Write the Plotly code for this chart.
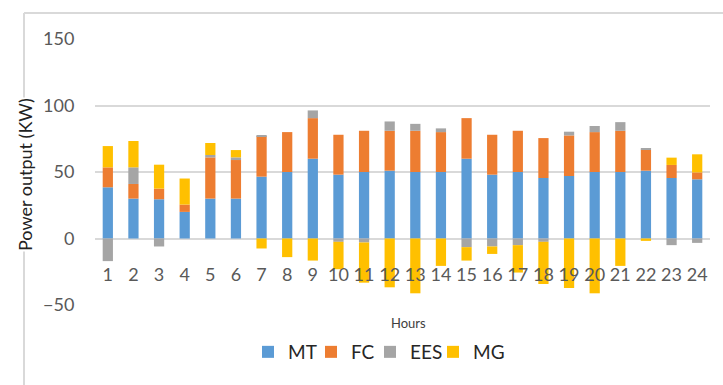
import plotly.graph_objects as go

HOURS = [str(i) for i in range(1, 25)]
MT = [38.5, 30, 29.5, 20, 30, 30, 46.5, 50, 60, 48, 50, 51, 50, 50, 60, 48, 50, 45.5, 47, 50, 50, 51, 45.5, 44.5]
FC = [15, 11, 8, 5.5, 31, 29, 30.5, 30, 30.5, 30, 31, 30, 31, 30, 30.5, 30, 31, 30, 30.5, 30, 31, 15.8, 9.8, 5.2]
EES = [-17, 12.5, -6, 0, 1.8, 2, 0.8, 0, 5.8, -2.5, -3, 7, 5.2, 2.8, -6.5, -6, -5, -2.5, 2.8, 4.6, 6.5, 0.7, -5, -3.3]
MG = [16, 19.8, 18, 19.6, 9, 5.5, -7.5, -14, -16.6, -20.6, -30.2, -36.7, -41.2, -20.6, -10.1, -5.6, -20.6, -31.7, -37.2, -41.2, -20.6, -1.8, 5.5, 13.6]
SERIES = [("MT", MT, "#5B9BD5"), ("FC", FC, "#ED7D31"), ("EES", EES, "#A5A5A5"), ("MG", MG, "#FFC000")]
Y_TICKS = [-50, 0, 50, 100, 150]

W, H = 723, 385
ML, MR, MT_, MB = 95, 13, 39, 80
PW, PH = W - ML - MR, H - MT_ - MB

def px_x(p):
    return (p - ML) / PW

def px_y(p):
    return (H - MB - p) / PH

FONT = "Lato, 'Open Sans', sans-serif"
LEGEND_X = [248, 311, 370, 433]  # pixel left edge of each legend entry

fig = go.Figure()
legend_layouts = {}
for i, (name, vals, col) in enumerate(SERIES):
    lname = "legend" if i == 0 else f"legend{i + 1}"
    fig.add_trace(go.Bar(x=HOURS, y=vals, name=name, legend=lname, showlegend=True,
                         marker=dict(color=col, line=dict(width=0))))
    legend_layouts[lname] = dict(orientation="h", xref="container", x=LEGEND_X[i] / W, xanchor="left",
                                 yref="container", y=(H - 352) / H, yanchor="middle",
                                 bgcolor="rgba(0,0,0,0)",
                                 font=dict(size=19, color="#262626"))

fig.update_layout(
    width=W, height=H, autosize=False, showlegend=True,
    margin=dict(l=ML, r=MR, t=MT_, b=MB, pad=0, autoexpand=False),
    barmode="relative", bargap=0.6,
    plot_bgcolor="white", paper_bgcolor="white",
    font=dict(family=FONT, color="#595959"),
    xaxis=dict(type="category", anchor="free", position=0.25, showgrid=False, zeroline=False,
               showline=False, ticks="outside", ticklen=20, tickcolor="rgba(0,0,0,0)",
               tickfont=dict(size=18, color="#595959"), automargin=False),
    yaxis=dict(range=[-50, 150], tickvals=Y_TICKS, showgrid=True, gridcolor="#d9d9d9", gridwidth=1.5,
               zeroline=False, showline=False, ticks="outside", ticklen=16, tickcolor="rgba(0,0,0,0)",
               tickfont=dict(size=18, color="#595959"), automargin=False),
    shapes=[
        dict(type="line", xref="paper", yref="paper", x0=px_x(24), x1=px_x(24), y0=px_y(13), y1=px_y(H),
             line=dict(color="#d9d9d9", width=2)),
        dict(type="line", xref="paper", yref="paper", x0=px_x(24), x1=px_x(W), y0=px_y(13), y1=px_y(13),
             line=dict(color="#d9d9d9", width=2)),
    ],
    annotations=[
        dict(text="Power output (KW)", xref="paper", yref="paper", x=px_x(25), y=px_y(175),
             xanchor="center", yanchor="middle", textangle=-90, showarrow=False,
             bgcolor="white", borderpad=0, font=dict(size=18, color="#222222")),
        dict(text="Hours", xref="paper", yref="paper", x=px_x(408), y=px_y(323),
             xanchor="center", yanchor="middle", showarrow=False,
             font=dict(size=13, color="#404040")),
    ],
    **legend_layouts,
)

fig.write_html("out.html", config={"displayModeBar": False},
               post_script="document.body.style.margin='0';document.body.style.overflow='hidden';")
